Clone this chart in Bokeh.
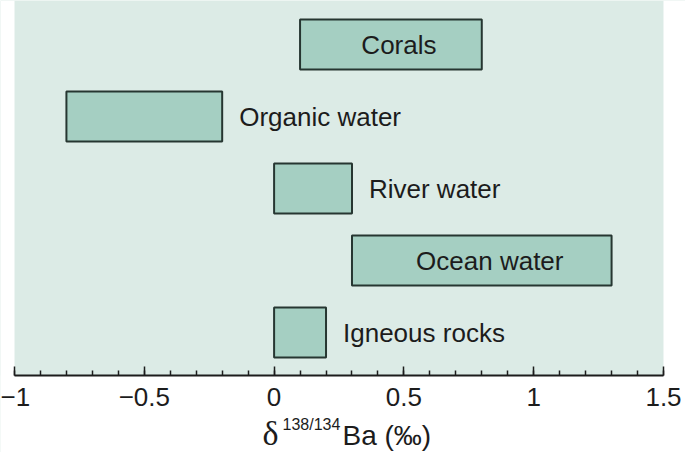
from bokeh.plotting import figure
from bokeh.models import ColumnDataSource, FixedTicker, Label, BoxAnnotation
from bokeh.embed import file_html
from bokeh.resources import INLINE
from bokeh.core.properties import value

# ---- data ----
reservoirs = ["Igneous rocks", "Ocean water", "River water", "Organic water", "Corals"]
rows = [1, 2, 3, 4, 5]
lo = [0.0, 0.3, 0.0, -0.8, 0.1]
hi = [0.2, 1.3, 0.3, -0.2, 0.8]
label_inside = [False, True, False, False, True]
tick_values = [-1, -0.5, 0, 0.5, 1, 1.5]
tick_labels = ["\u22121", "\u22120.5", "0", "0.5", "1", "1.5"]
minor_values = [-1.0, -0.9, -0.8, -0.7, -0.6, -0.5, -0.4, -0.3, -0.2, -0.1, 0.0,
                0.1, 0.2, 0.3, 0.4, 0.5, 0.6, 0.7, 0.8, 0.9, 1.0,
                1.1, 1.2, 1.3, 1.4, 1.5]

FONT = "Liberation Sans"
BG = "#dcebe6"
FILL = "#a5cfc2"
EDGE = "#263631"
INK = "#1c1c1c"

W, H = 685, 452
X0, X1 = -1, 1.5
X0_PX, X1_PX = 14.0, 663.0    # screen x of the axis ends
PX_PER_Y = 72.0               # pixels per row
ROW1_PX = 332.0               # screen y of row 1 centre
AXIS_PX = 375.0               # screen y of the x axis line


def yd(py):
    return 1 + (ROW1_PX - py) / PX_PER_Y


def xd(px):
    return X0 + (px - X0_PX) * (X1 - X0) / (X1_PX - X0_PX)


Y_TOP, Y_BOT, Y_AXIS = yd(0), yd(H), yd(AXIS_PX)

p = figure(width=W, height=H, x_range=(xd(0), xd(W)), y_range=(Y_BOT, Y_TOP),
           output_backend="svg", toolbar_location=None, y_axis_location=None,
           min_border_left=0, min_border_right=0, min_border_top=0,
           min_border_bottom=0)
p.background_fill_color = BG
p.border_fill_color = "white"
p.outline_line_color = None
p.grid.visible = False

# white page outside the shaded plotting panel
for kw in (dict(top=Y_AXIS), dict(right=X0), dict(left=X1)):
    p.add_layout(BoxAnnotation(fill_color="white", fill_alpha=1,
                               line_color=None, level="underlay", **kw))

ax = p.xaxis[0]
ax.fixed_location = Y_AXIS
ax.bounds = (X0, X1)
ax.ticker = FixedTicker(ticks=tick_values, minor_ticks=minor_values)
ax.major_label_overrides = {v: t for v, t in zip(tick_values, tick_labels)}
ax.major_tick_in = 9
ax.major_tick_out = 0
ax.minor_tick_in = 5
ax.minor_tick_out = 0
ax.axis_line_width = 2
ax.axis_line_color = INK
ax.major_tick_line_color = INK
ax.minor_tick_line_color = INK
ax.major_tick_line_width = 1.5
ax.minor_tick_line_width = 1.5
ax.major_label_text_font = FONT
ax.major_label_text_font_size = "26px"
ax.major_label_text_color = INK
ax.major_label_standoff = 12

# label positions derived from data
tx, align, xoff = [], [], []
for a, b, ins in zip(lo, hi, label_inside):
    if ins:
        tx.append((a + b) / 2); align.append("center"); xoff.append(8)
    else:
        tx.append(b); align.append("left"); xoff.append(17)

src = ColumnDataSource(dict(name=reservoirs, row=rows, lo=lo, hi=hi,
                            tx=tx, align=align, xoff=xoff))

p.hbar(y="row", left="lo", right="hi", height=50 / PX_PER_Y, source=src,
       fill_color=FILL, line_color=EDGE, line_width=2)
p.text(x="tx", y="row", text="name", source=src, text_align="align",
       text_baseline="middle", x_offset="xoff", text_font=value(FONT),
       text_font_size="26px", text_color=INK)

# axis title: delta^{138/134}Ba (permil)
p.add_layout(Label(x=xd(262), y=yd(433), text="\u03b4", text_font="Liberation Serif",
                   text_font_size="34px", text_color=INK,
                   text_align="left", text_baseline="middle"))
p.add_layout(Label(x=xd(282), y=yd(424), text="138/134", text_font=FONT,
                   text_font_size="16px", text_color=INK,
                   text_align="left", text_baseline="middle"))
p.add_layout(Label(x=xd(342), y=yd(435), text="Ba (\u2030)", text_font=FONT,
                   text_font_size="28px", text_color=INK,
                   text_align="left", text_baseline="middle"))

open("out.html", "w").write(file_html(p, INLINE))
